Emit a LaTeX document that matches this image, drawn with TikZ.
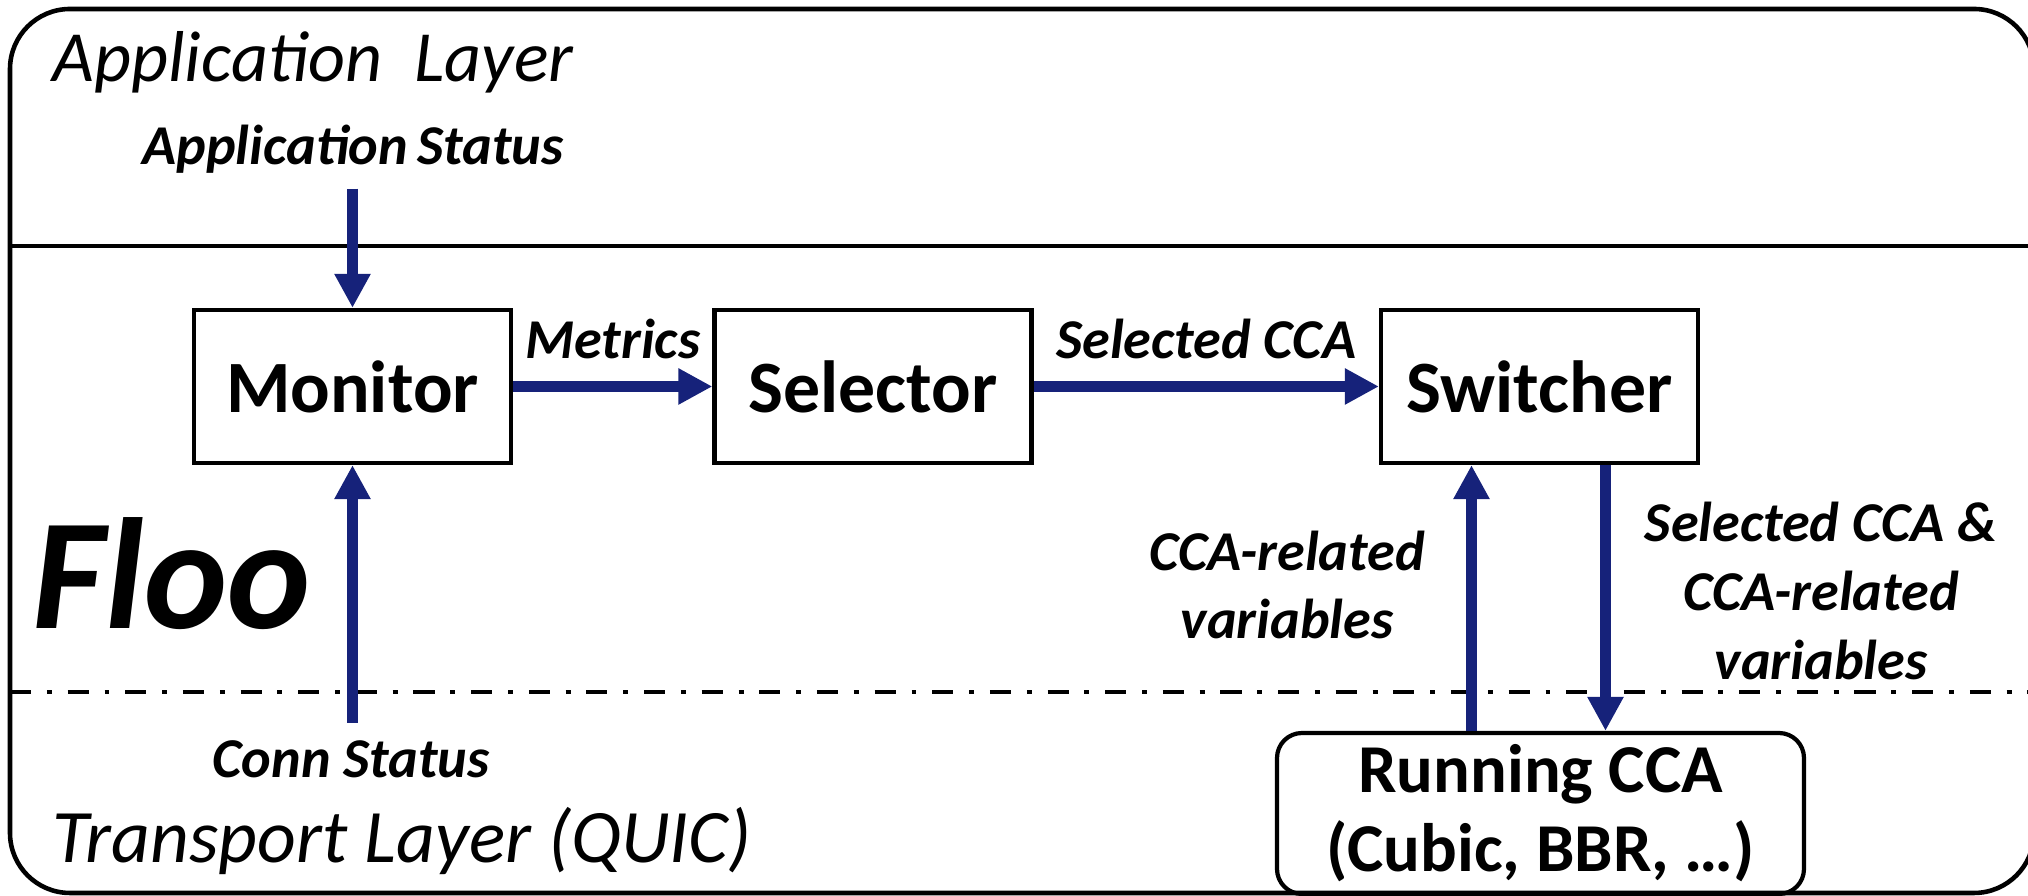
\documentclass[tikz,border=0pt]{standalone}
\usepackage{fontspec}
\setmainfont{Carlito}
\usetikzlibrary{arrows.meta}
\definecolor{flowblue}{RGB}{22,34,122}
\tikzset{
  modbox/.style={draw=black, line width=1.2pt, fill=white, minimum width=3.17cm, minimum height=1.53cm, font=\fontsize{21}{25}\selectfont\bfseries},
  flow/.style={draw=flowblue, line width=3.2pt, -{Triangle[length=3.4mm, width=3.4mm]}},
  lbl/.style={font=\fontsize{16}{19.5}\selectfont\bfseries\itshape, align=center},
  layer/.style={font=\fontsize{20.5}{25}\selectfont\itshape, anchor=west, inner sep=0pt},
}
\begin{document}
\begin{tikzpicture}
  \useasboundingbox (0,0) rectangle (20.28,8.96);

  % frame and layer borders
  \draw[line width=1.3pt, rounded corners=0.6cm] (0.10,0.03) rectangle (20.34,8.87);
  \draw[line width=1.3pt] (0.10,6.50) -- (20.34,6.50);
  \draw[line width=1.4pt, dash pattern=on 6pt off 4.5pt on 1.4pt off 4.5pt] (0.10,2.04) -- (20.34,2.04);

  \node[layer] (applayer) at (0.52,8.34) {Application\ \ Layer};
  \node[layer, font=\fontsize{21.5}{25}\selectfont\itshape] (translayer) at (0.52,0.55) {Transport Layer (QUIC)};
  \node[font=\fontsize{45}{50}\selectfont\bfseries\itshape] (floo) at (1.72,3.22) {Floo};

  % modules
  \node[modbox] (mon) at (3.525,5.095) {Monitor};
  \node[modbox] (sel) at (8.73,5.095) {Selector};
  \node[modbox] (sw) at (15.395,5.095) {Switcher};
  \node[draw=black, line width=1.2pt, rounded corners=0.25cm, minimum width=5.27cm, minimum height=1.57cm, align=center,
        font=\fontsize{19.5}{22.5}\selectfont\bfseries] (run) at (15.405,0.825) {Running CCA\\(Cubic, BBR, \dots)};

  \node[lbl] (appst) at (3.53,7.47) {Application\,Status};
  \node[lbl] (connst) at (3.51,1.37) {Conn Status};
  \node[lbl] (ccavars) at (12.87,3.11) {CCA-related\\variables};
  \node[lbl] (selvars) at (18.21,3.05) {Selected CCA \&\\CCA-related\\variables};

  % connectors
  \draw[flow, shorten <=0.03cm] (appst.south -| mon.north) -- (mon.north);
  \draw[flow, shorten <=0.05cm] (connst.north -| mon.south) -- (mon.south);
  \draw[flow] (mon.east) -- node[lbl, above=1mm] (metrics) {Metrics} (sel.west);
  \draw[flow] (sel.east) -- node[lbl, above=1mm] (selcca) {Selected CCA} (sw.west);
  \draw[flow] ([xshift=-6.9mm]run.north) -- ([xshift=-6.9mm]run.north |- sw.south);
  \draw[flow] ([xshift=6.6mm]sw.south) -- ([xshift=6.6mm]sw.south |- run.north);
\end{tikzpicture}
\end{document}
